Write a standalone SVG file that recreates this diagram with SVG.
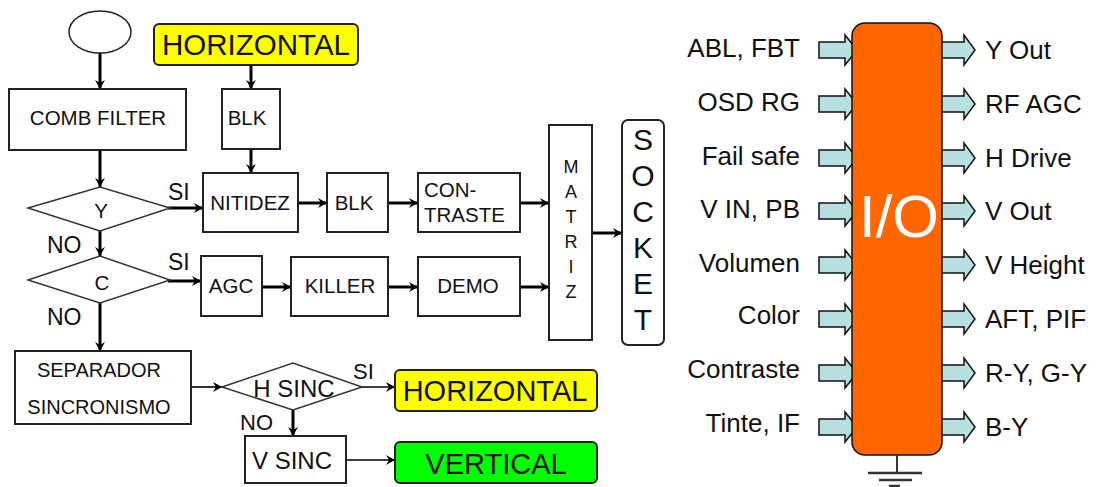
<svg xmlns="http://www.w3.org/2000/svg" width="1107" height="487" viewBox="0 0 1107 487">
<style>
text{font-family:"Liberation Sans",Arial,sans-serif;fill:#111}
.box{fill:#fff;stroke:#222;stroke-width:2}
.dia{fill:#fff;stroke:#333;stroke-width:1.5}
.t{font-size:20.5px;text-anchor:middle}
.lbl{font-size:23px}
.big{font-size:29px;text-anchor:middle}
.c{stroke:#000;fill:none;stroke-width:3;marker-end:url(#ah)}
.cn{stroke:#000;fill:none;stroke-width:1.6;marker-end:url(#ah)}
.pin{fill:#b8e0e0;stroke:#111;stroke-width:1.5}
.io{font-size:26px}
</style>
<defs>
<marker id="ah" markerUnits="userSpaceOnUse" markerWidth="12" markerHeight="12" viewBox="-10 -6 12 12" refX="0" refY="0" orient="auto">
<path d="M-9,-5 L0,0 L-9,5 L-6,0 Z" fill="#000"/>
</marker>
<path id="pinL" d="M0,-8 H26 V-15 L38,0 L26,15 V8 H0 Z"/>
<path id="pinR" d="M0,-8 H23 V-15 L34,0 L23,15 V8 H0 Z"/>
</defs>

<g id="connectors">
<line class="c" x1="100" y1="53" x2="100" y2="89"/>
<line class="c" x1="251" y1="65" x2="251" y2="89"/>
<line class="c" x1="100" y1="150" x2="100" y2="187"/>
<line class="c" x1="251" y1="149" x2="251" y2="173"/>
<line class="c" x1="168" y1="208" x2="203" y2="208"/>
<line class="c" x1="100" y1="231" x2="100" y2="256"/>
<line class="c" x1="298" y1="203" x2="327" y2="203"/>
<line class="c" x1="388" y1="203" x2="418" y2="203"/>
<line class="c" x1="520" y1="203" x2="549" y2="203"/>
<line class="c" x1="168" y1="281" x2="201" y2="281"/>
<line class="c" x1="262" y1="287" x2="291" y2="287"/>
<line class="c" x1="388" y1="287" x2="418" y2="287"/>
<line class="c" x1="520" y1="287" x2="549" y2="287"/>
<line class="c" x1="592" y1="233" x2="622" y2="233"/>
<line class="c" x1="100" y1="303" x2="100" y2="351"/>
<line class="cn" x1="191" y1="387" x2="222" y2="387"/>
<line class="cn" x1="362" y1="387" x2="395" y2="387"/>
<line class="c" x1="293" y1="410" x2="293" y2="436"/>
<line class="cn" x1="346" y1="460" x2="395" y2="460"/>
</g>

<g id="start"><ellipse cx="100" cy="32" rx="31" ry="21" fill="#fff" stroke="#222" stroke-width="1.5"/></g>

<g id="horizontal-top"><rect x="154" y="24" width="204" height="41" rx="5" fill="#ffff00" stroke="#222" stroke-width="2"/><text x="256" y="55" font-size="29.5" text-anchor="middle">HORIZONTAL</text></g>

<g id="comb-filter"><rect class="box" x="9" y="89" width="177" height="61"/><text class="t" x="98" y="125">COMB FILTER</text></g>

<g id="blk-top"><rect class="box" x="222" y="89" width="58" height="60"/><text class="t" x="247" y="125">BLK</text></g>

<g id="dec-y"><polygon class="dia" points="28,208 100,187 170,208 100,231"/><text class="t" x="101" y="218">Y</text></g>
<g id="lbl-si1"><text class="lbl" x="168" y="200">SI</text></g>
<g id="lbl-no1"><text class="lbl" x="47" y="253">NO</text></g>

<g id="nitidez"><rect class="box" x="203" y="173" width="95" height="59"/><text class="t" x="250" y="210">NITIDEZ</text></g>
<g id="blk-mid"><rect class="box" x="327" y="173" width="61" height="59"/><text class="t" x="354" y="210">BLK</text></g>
<g id="contraste"><rect class="box" x="418" y="173" width="102" height="59"/><text x="424" y="197" font-size="20.5">CON-</text><text x="424" y="222" font-size="20.5">TRASTE</text></g>

<g id="dec-c"><polygon class="dia" points="28,280 100,256 170,280 100,303"/><text class="t" x="102" y="290">C</text></g>
<g id="lbl-si2"><text class="lbl" x="168" y="270">SI</text></g>
<g id="lbl-no2"><text class="lbl" x="47" y="325">NO</text></g>

<g id="agc"><rect class="box" x="201" y="256" width="61" height="60"/><text class="t" x="231" y="293">AGC</text></g>
<g id="killer"><rect class="box" x="291" y="257" width="97" height="59"/><text class="t" x="340" y="293">KILLER</text></g>
<g id="demo"><rect class="box" x="418" y="257" width="102" height="59"/><text class="t" x="468" y="293">DEMO</text></g>

<g id="matriz"><rect class="box" x="549" y="125" width="43" height="215"/>
<g font-size="18" text-anchor="middle"><text x="571" y="173">M</text><text x="571" y="198">A</text><text x="571" y="223">T</text><text x="571" y="248">R</text><text x="571" y="273">I</text><text x="571" y="298">Z</text></g></g>

<g id="socket"><rect x="622" y="120" width="42" height="225" rx="6" fill="#fff" stroke="#222" stroke-width="2"/>
<g font-size="30" text-anchor="middle"><text x="643" y="150">S</text><text x="643" y="186">O</text><text x="643" y="222">C</text><text x="643" y="258">K</text><text x="643" y="294">E</text><text x="643" y="330">T</text></g></g>

<g id="separador"><rect class="box" x="15" y="351" width="176" height="73"/><text x="99" y="377" font-size="20" text-anchor="middle">SEPARADOR</text><text x="99" y="414" font-size="20" text-anchor="middle">SINCRONISMO</text></g>

<g id="dec-hsinc"><polygon class="dia" points="222,387 293,363 362,387 293,410"/><text x="294" y="397" font-size="24" text-anchor="middle">H SINC</text></g>
<g id="lbl-si3"><text x="353" y="379" font-size="22">SI</text></g>
<g id="lbl-no3"><text x="240" y="430" font-size="22">NO</text></g>

<g id="horizontal-out"><rect x="395" y="370" width="202" height="41" rx="5" fill="#ffff00" stroke="#222" stroke-width="2"/><text class="big" x="495" y="401">HORIZONTAL</text></g>

<g id="vsinc"><rect class="box" x="245" y="436" width="101" height="47"/><text x="292" y="469" font-size="24" text-anchor="middle">V SINC</text></g>

<g id="vertical"><rect x="395" y="442" width="202" height="41" rx="5" fill="#00ff00" stroke="#222" stroke-width="2"/><text class="big" x="496" y="474">VERTICAL</text></g>

<g id="io-chip">
<g class="pin">
<use href="#pinL" x="819" y="50"/><use href="#pinL" x="819" y="104"/><use href="#pinL" x="819" y="158"/><use href="#pinL" x="819" y="211"/>
<use href="#pinL" x="819" y="265"/><use href="#pinL" x="819" y="319"/><use href="#pinL" x="819" y="373"/><use href="#pinL" x="819" y="427"/>
<use href="#pinR" x="941" y="50"/><use href="#pinR" x="941" y="104"/><use href="#pinR" x="941" y="158"/><use href="#pinR" x="941" y="211"/>
<use href="#pinR" x="941" y="265"/><use href="#pinR" x="941" y="319"/><use href="#pinR" x="941" y="373"/><use href="#pinR" x="941" y="427"/>
</g>
<rect x="852" y="23" width="90" height="432" rx="13" fill="#ff6600" stroke="#111" stroke-width="1.5"/>
<text x="899" y="237" font-size="60" text-anchor="middle" style="fill:#fff">I/O</text>
<g stroke="#333" stroke-width="2.5">
<line x1="897" y1="455" x2="897" y2="473" stroke-width="2"/>
<line x1="868" y1="473" x2="922" y2="473"/>
<line x1="879" y1="480" x2="912" y2="480"/>
<line x1="889" y1="486" x2="900" y2="486"/>
</g>
<g class="io" text-anchor="end">
<text x="800" y="57">ABL, FBT</text>
<text x="800" y="111">OSD RG</text>
<text x="800" y="165">Fail safe</text>
<text x="800" y="218">V IN, PB</text>
<text x="800" y="272">Volumen</text>
<text x="800" y="324">Color</text>
<text x="800" y="378">Contraste</text>
<text x="800" y="432">Tinte, IF</text>
</g>
<g class="io">
<text x="985" y="59">Y Out</text>
<text x="985" y="113">RF AGC</text>
<text x="985" y="167">H Drive</text>
<text x="985" y="220">V Out</text>
<text x="985" y="274">V Height</text>
<text x="985" y="328">AFT, PIF</text>
<text x="985" y="382">R-Y, G-Y</text>
<text x="985" y="436">B-Y</text>
</g>
</g>
</svg>
